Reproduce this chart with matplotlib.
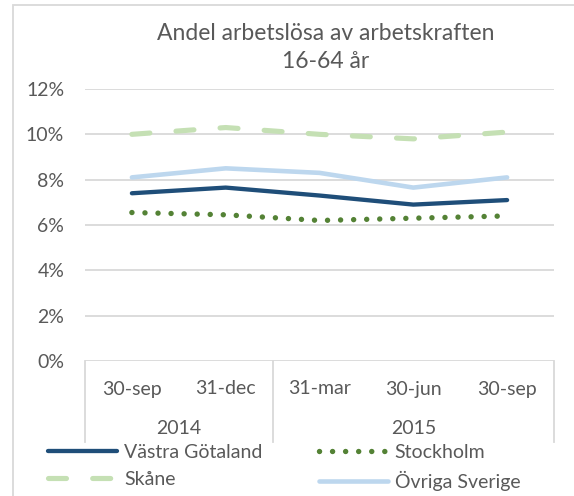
import matplotlib
matplotlib.use("Agg")
import matplotlib.pyplot as plt
from matplotlib.lines import Line2D
from matplotlib.patches import Rectangle
import matplotlib.transforms as mtransforms

categories = ["30-sep", "31-dec", "31-mar", "30-jun", "30-sep"]
years = ["2014", "2015"]
year_counts = [2, 3]
vastra = [7.4, 7.65, 7.3, 6.9, 7.1]
stockholm = [6.55, 6.45, 6.2, 6.3, 6.4]
skane = [10.0, 10.3, 10.0, 9.8, 10.1]
ovriga = [8.1, 8.5, 8.3, 7.65, 8.1]
yticks = [0, 2, 4, 6, 8, 10, 12]
ytick_labels = ["0%", "2%", "4%", "6%", "8%", "10%", "12%"]

W, H = 574, 496
fig = plt.figure(figsize=(W / 100, H / 100), dpi=100)
plt.rcParams['font.family'] = ['Lato', 'DejaVu Sans']
txt = '#595959'
grid = '#D9D9D9'
fs = 14

# outer chart frame
fig.patches.append(Rectangle((12.5 / W, -0.1), 1.2, 1 - 5 / H + 0.1, transform=fig.transFigure,
                             fill=False, edgecolor='#D9D9D9', linewidth=1.3))

l, r, t, b = 85, 554, 89, 361
ax = fig.add_axes([l / W, 1 - b / H, (r - l) / W, (b - t) / H])
x = list(range(len(categories)))

ax.plot(x, skane, color='#C5E0B4', lw=3.7, dashes=(3.5, 5.1), dash_capstyle='round', label='Skåne', zorder=3)
ax.plot(x, ovriga, color='#BDD7EE', lw=3.3, solid_capstyle='round', label='Övriga Sverige', zorder=3)
ax.plot(x, vastra, color='#1F4E79', lw=3.1, solid_capstyle='round', label='Västra Götaland', zorder=4)
ax.plot(x, stockholm, color='#548235', lw=3.9, dashes=(0.01, 2.4), dash_capstyle='round', label='Stockholm', zorder=4)

ax.set_xlim(-0.5, len(categories) - 0.5)
ax.set_ylim(0, 12)
ax.set_yticks(yticks)
ax.set_yticklabels(ytick_labels)
ax.yaxis.grid(True, color=grid, lw=1.3)
ax.set_axisbelow(True)
for s in ax.spines.values():
    s.set_visible(False)
ax.tick_params(axis='y', length=0, pad=15, labelsize=fs, labelcolor=txt)
ax.set_xticks([])

# multi-level category axis
tr = mtransforms.blended_transform_factory(ax.transData, ax.transAxes)
ph = b - t
for xi, c in zip(x, categories):
    ax.text(xi, -(389 - b) / ph, c, transform=tr, ha='center', va='center', fontsize=fs, color=txt)
depth = (442 - b) / ph
bounds = [-0.5]
for c in year_counts:
    bounds.append(bounds[-1] + c)
for bx in bounds:
    ax.add_line(Line2D([bx, bx], [0, -depth], transform=tr, color=grid, lw=1.3, clip_on=False))
for i, yr in enumerate(years):
    cx = (bounds[i] + bounds[i + 1]) / 2
    ax.text(cx, -(428.5 - b) / ph, yr, transform=tr, ha='center', va='center',
            fontsize=fs, color=txt)

fig.text(326 / W, 1 - 33 / H, "Andel arbetslösa av arbetskraften", ha='center', va='center',
         fontsize=16.5, color=txt)
fig.text(326 / W, 1 - 62 / H, "16-64 år", ha='center', va='center', fontsize=16.5, color=txt)

h = {ln.get_label(): ln for ln in ax.get_lines()}
order = ['Västra Götaland', 'Skåne', 'Stockholm', 'Övriga Sverige']
leg = fig.legend([h[k] for k in order], order, ncol=2, loc='center left',
                 bbox_to_anchor=(48 / W, 1 - 467.5 / H), frameon=False, fontsize=fs,
                 handlelength=3.55, handletextpad=0.36, columnspacing=2.9, labelspacing=0.5,
                 borderpad=0, borderaxespad=0)
for tx in leg.get_texts():
    tx.set_color(txt)

fig.savefig("out.png", dpi=100)
